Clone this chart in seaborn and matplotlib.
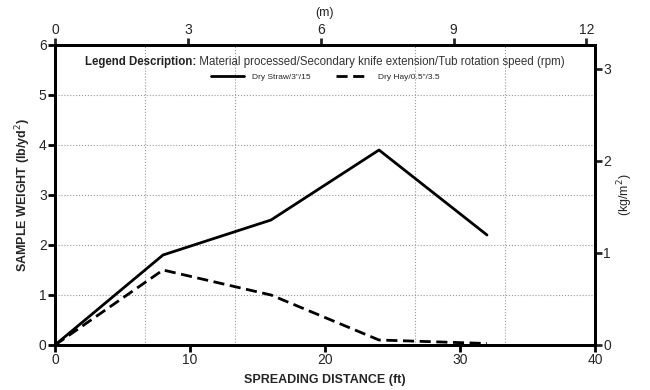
import matplotlib
matplotlib.use("Agg")
import matplotlib.pyplot as plt
import seaborn as sns
import pandas as pd
from matplotlib.ticker import MultipleLocator
from matplotlib.lines import Line2D

distance_ft = [0, 8, 16, 24, 32]
dry_straw = [0, 1.8, 2.5, 3.9, 2.2]
dry_hay = [0, 1.5, 1.0, 0.1, 0.03]
series_names = ["Dry Straw/3\"/15", "Dry Hay/0.5\"/3.5"]

df = pd.DataFrame({
    "x": distance_ft * 2,
    "y": dry_straw + dry_hay,
    "series": [series_names[0]] * len(distance_ft) + [series_names[1]] * len(distance_ft),
})

sns.set_style("white")
plt.rcParams['font.family'] = ['Liberation Sans', 'DejaVu Sans']

fig = plt.figure(figsize=(6.5, 3.9), dpi=100)
ax = fig.add_axes([55/650, 1-345/390, 540/650, 300/390])

sns.lineplot(data=df, x="x", y="y", hue="series", style="series",
             palette={series_names[0]: "black", series_names[1]: "black"},
             dashes={series_names[0]: "", series_names[1]: (4, 2)},
             linewidth=2, ax=ax, legend=False, zorder=3)

ax.set_xlim(0, 40)
ax.set_ylim(0, 6)
ax.xaxis.set_major_locator(MultipleLocator(10))
ax.xaxis.set_minor_locator(MultipleLocator(40/6))
ax.yaxis.set_major_locator(MultipleLocator(1))
ax.grid(True, which="minor", axis="x", color="#999999", linestyle=":", linewidth=0.8)
ax.grid(True, which="major", axis="y", color="#999999", linestyle=":", linewidth=0.8)
ax.tick_params(axis="both", which="major", direction="out", length=5, width=2,
               labelsize=10, color="black", bottom=True, left=True, pad=1)
ax.tick_params(axis="x", which="minor", length=0)
for s in ax.spines.values():
    s.set_linewidth(2)
    s.set_color("black")
ax.set_xlabel("SPREADING DISTANCE (ft)", fontsize=9, fontweight="bold", labelpad=5)
ax.set_ylabel("SAMPLE WEIGHT (lb/yd$^2$)", fontsize=9, fontweight="bold", labelpad=4)

# top axis in meters
axt = ax.twiny()
axt.set_xlim(0, 40 * 0.3048)
axt.xaxis.set_major_locator(MultipleLocator(3))
axt.tick_params(axis="x", direction="out", length=5, width=2, labelsize=10, pad=1)
axt.set_xlabel("(m)", fontsize=9, labelpad=5)
axt.grid(False)

# right axis in kg/m2
axr = ax.twinx()
axr.set_ylim(0, 6 * 0.5425)
axr.yaxis.set_major_locator(MultipleLocator(1))
axr.tick_params(axis="y", direction="out", length=5, width=2, labelsize=10, pad=1)
axr.set_ylabel("(kg/m$^2$)", fontsize=9, labelpad=3)
axr.grid(False)
for a in (axt, axr):
    for s in a.spines.values():
        s.set_linewidth(2)
        s.set_color("black")

t1 = ax.text(30/540, 0.943, "Legend Description:", transform=ax.transAxes,
             fontsize=8.3, fontweight="bold", ha="left", va="center", color="#222222")
ax.annotate(" Material processed/Secondary knife extension/Tub rotation speed (rpm)",
            xy=(1, 0.5), xycoords=t1, ha="left", va="center",
            fontsize=8.3, color="#333333")

handles = [Line2D([], [], color="black", lw=2),
           Line2D([], [], color="black", lw=2, dashes=(4, 2))]
ax.legend(handles, series_names, loc="center", bbox_to_anchor=(0.5, 0.892),
          ncol=2, frameon=False, fontsize=6, handlelength=4, columnspacing=3,
          handletextpad=1)

fig.savefig("out.png", dpi=100)
